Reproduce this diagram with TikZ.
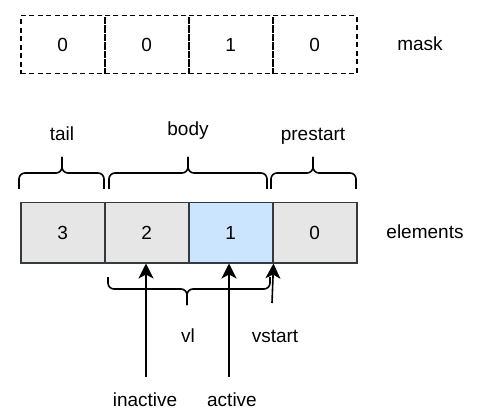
\documentclass[tikz,border=0pt]{standalone}
\usepackage{fontspec}
\setmainfont{Liberation Sans}
\usetikzlibrary{arrows.meta}
\definecolor{cellgray}{HTML}{E6E6E6}
\definecolor{cellblue}{HTML}{CCE5FF}
\definecolor{linec}{HTML}{36393D}
\tikzset{
  x=1pt, y=-1pt,
  every node/.style={font=\fontsize{19}{22}\selectfont},
  maskcell/.style={draw=black, line width=1.5pt, dash pattern=on 5pt off 3.5pt, minimum width=84pt, minimum height=58pt, inner sep=0pt, anchor=north west},
  elcell/.style={draw=linec, line width=1.5pt, minimum width=84pt, minimum height=60pt, inner sep=0pt, anchor=north west},
  lbl/.style={inner sep=0pt},
  bracestyle/.style={draw=black, line width=1.6pt, rounded corners=6pt},
  arr/.style={draw=black, line width=1.6pt, -{Stealth[length=15pt,width=15pt,inset=4pt]}}
}
\begin{document}
\begin{tikzpicture}
\useasboundingbox (0,0) rectangle (477,417);
% mask
\node[maskcell] (m0) at (20,15) {0};
\node[maskcell] (m1) at (104,15) {0};
\node[maskcell] (m2) at (188,15) {1};
\node[maskcell] (m3) at (272,15) {0};
\node[lbl] (mask) at (420,44) {mask};
% elements
\node[elcell, fill=cellgray] (e3) at (20,202) {3};
\node[elcell, fill=cellgray] (e2) at (104,202) {2};
\node[elcell, fill=cellblue] (e1) at (188,202) {1};
\node[elcell, fill=cellgray] (e0) at (272,202) {0};
\node[lbl] (elements) at (425,232) {elements};
% top braces
\draw[bracestyle] (19,189) -- (19,173) -- (62,173) -- (62,157);
\draw[bracestyle] (104,189) -- (104,173) -- (62,173) -- (62,157);
\draw[bracestyle] (109,189) -- (109,173) -- (188,173) -- (188,157);
\draw[bracestyle] (267,189) -- (267,173) -- (188,173) -- (188,157);
\draw[bracestyle] (271,189) -- (271,173) -- (313,173) -- (313,157);
\draw[bracestyle] (356,189) -- (356,173) -- (313,173) -- (313,157);
\node[lbl] (tail) at (62,134) {tail};
\node[lbl] (body) at (188,131) {body};
\node[lbl] (prestart) at (313,136) {prestart};
% bottom brace
\draw[bracestyle] (108,277) -- (108,289) -- (187,289) -- (187,305);
\draw[bracestyle] (270,277) -- (270,289) -- (187,289) -- (187,305);
\node[lbl] (vl) at (188,336) {vl};
\node[lbl] (vstart) at (275,336) {vstart};
\node[lbl] (inactive) at (145,400) {inactive};
\node[lbl] (active) at (232,400) {active};
% arrows
\coordinate (ia) at (146,377);
\coordinate (aa) at (229,377);
\coordinate (va) at (272,303);
\draw[arr] (ia) -- (ia |- e2.south);
\draw[arr] (aa) -- (aa |- e1.south);
\draw[arr] (va) -- (e1.south east);
\end{tikzpicture}
\end{document}
